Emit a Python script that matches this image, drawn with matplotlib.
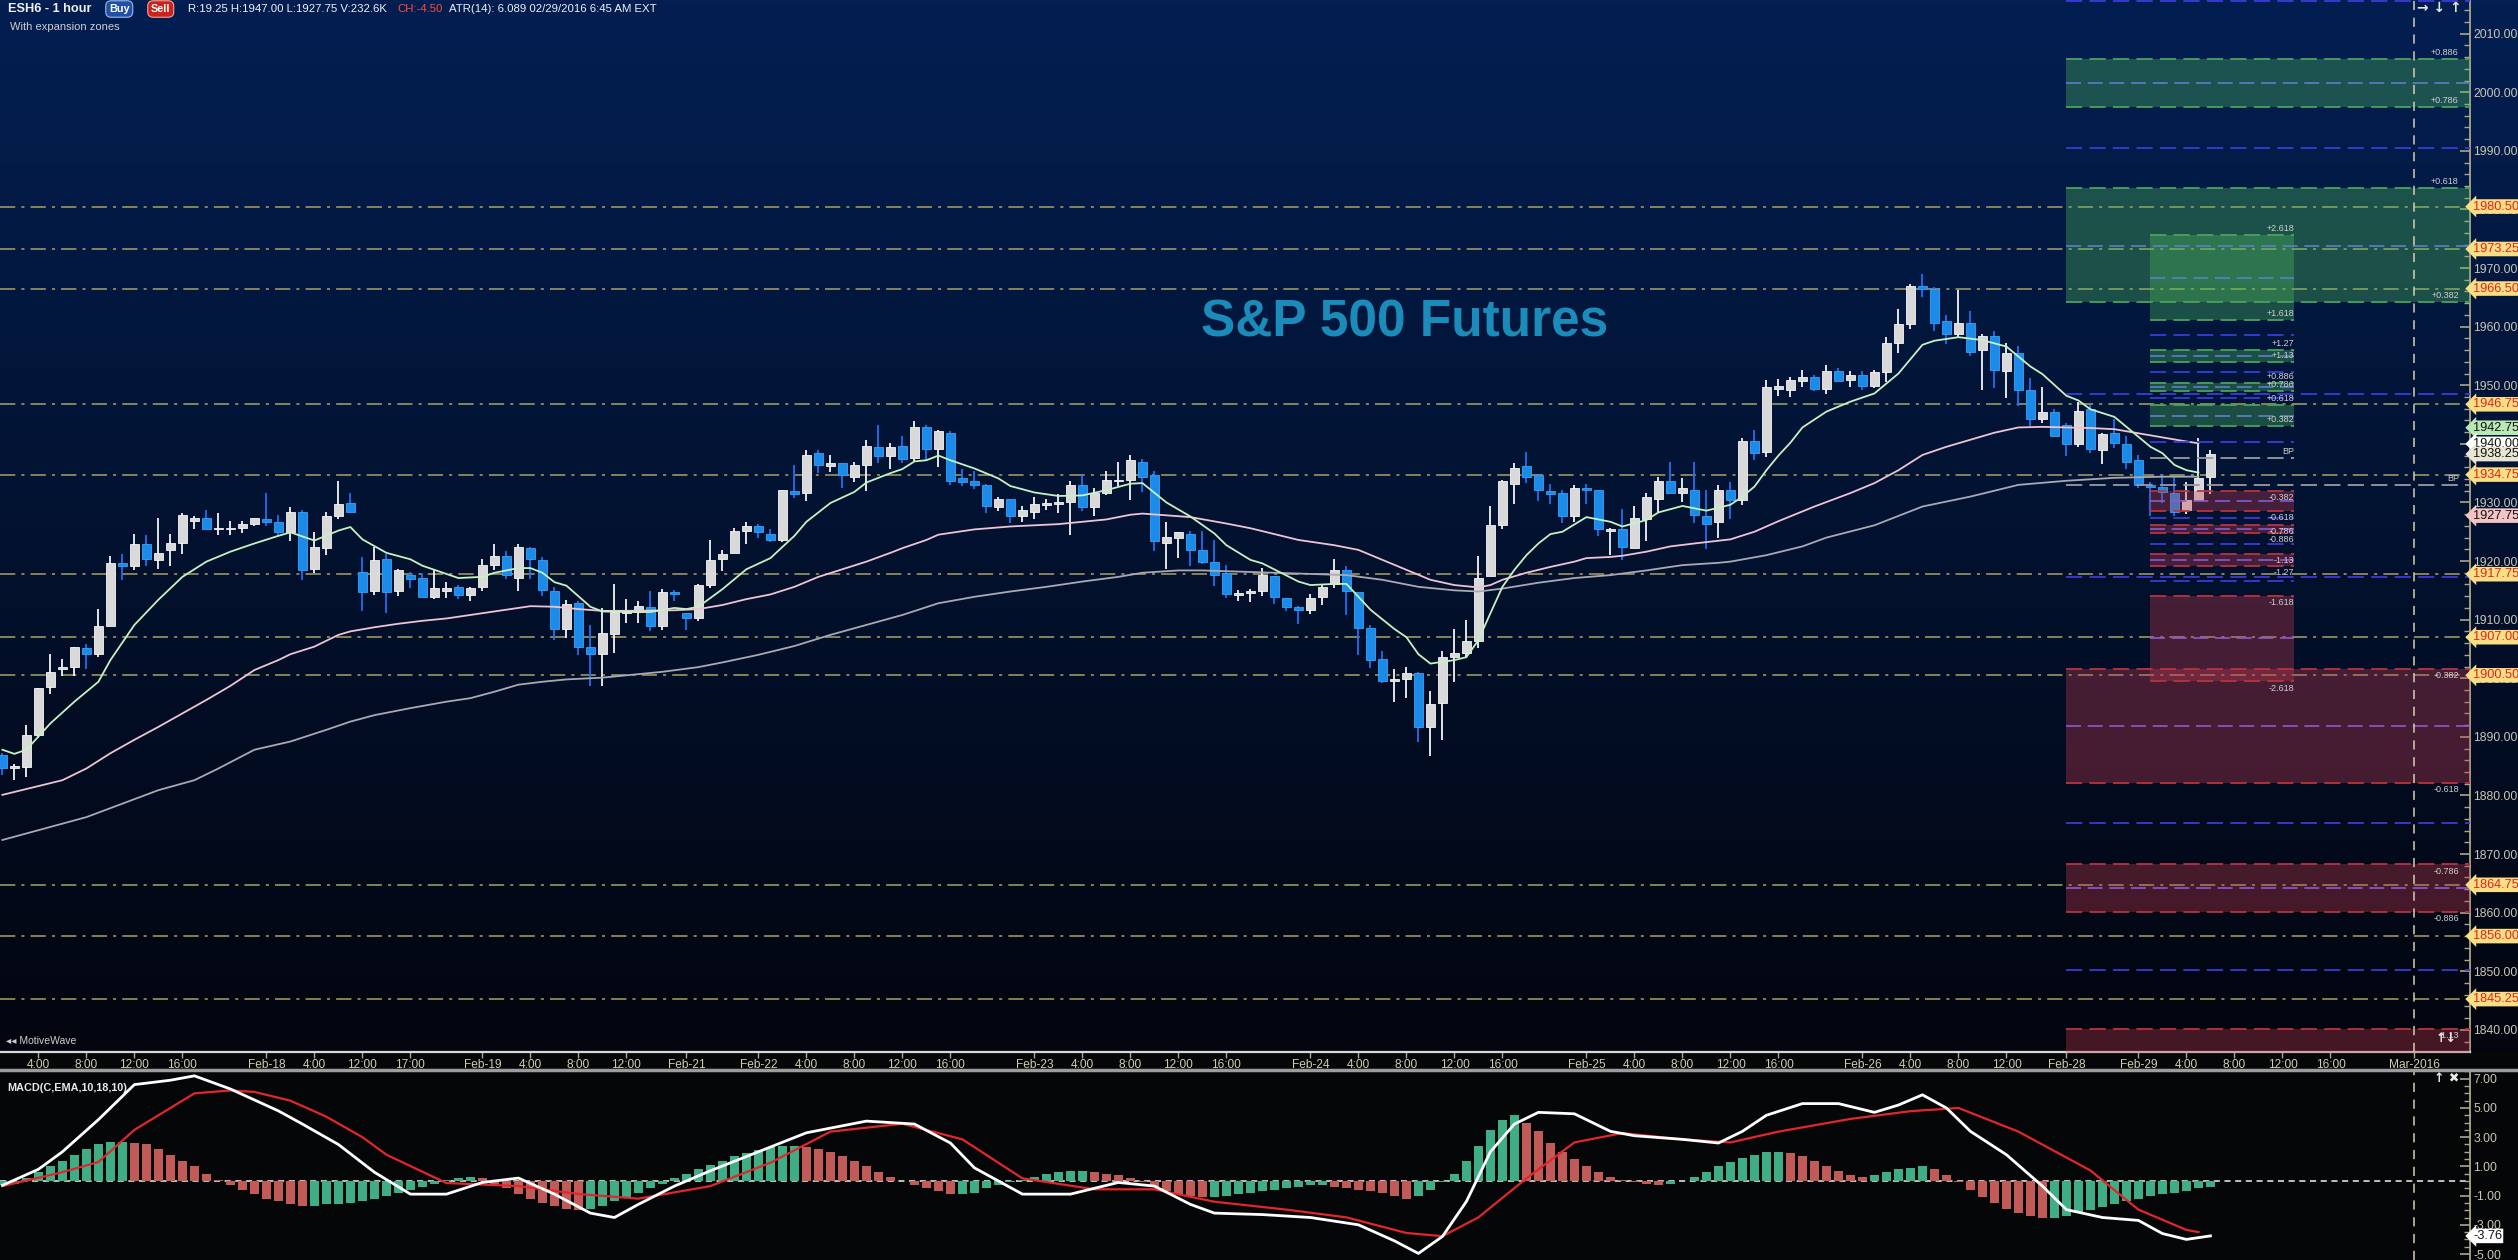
import numpy as np
import matplotlib
matplotlib.use('Agg')
import matplotlib.pyplot as plt
from matplotlib.lines import Line2D

# ---------------- data ----------------
opens = [1886.9, 1884.7, 1884.9, 1890.3, 1898.5, 1901.5, 1902.0, 1905.2, 1904.1, 1908.9,
         1919.7, 1919.2, 1922.9, 1920.2, 1921.8, 1923.1, 1926.9, 1927.35, 1925.4, 1925.4,
         1925.6, 1926.3, 1927.1, 1926.7, 1925.0, 1928.4, 1918.6, 1922.2, 1927.7, 1929.9,
         1918.1, 1914.9, 1920.4, 1914.9, 1917.6, 1917.1, 1913.9, 1914.9, 1915.6, 1914.2,
         1915.6, 1919.3, 1920.9, 1917.1, 1922.2, 1920.2, 1914.9, 1908.4, 1912.8, 1905.3,
         1904.1, 1907.6, 1911.1, 1911.3, 1912.1, 1909.0, 1914.7, 1911.1, 1910.2, 1915.9,
         1920.4, 1921.4, 1925.1, 1926.0, 1924.6, 1923.6, 1932.0, 1931.6, 1938.4, 1936.2,
         1936.7, 1934.4, 1936.4, 1939.5, 1937.9, 1939.6, 1937.6, 1942.9, 1939.1, 1941.9,
         1934.2, 1933.7, 1933.0, 1929.2, 1930.6, 1927.7, 1928.4, 1929.6, 1929.8, 1930.1,
         1933.0, 1929.2, 1931.6, 1933.6, 1933.8, 1936.9, 1934.7, 1923.1, 1923.9, 1924.6,
         1921.9, 1919.8, 1918.0, 1914.2, 1914.55, 1914.9, 1917.5, 1913.7, 1912.2, 1911.65,
         1913.9, 1916.1, 1918.5, 1914.7, 1908.6, 1903.3, 1899.5, 1899.9, 1900.9, 1891.7,
         1895.8, 1903.6, 1904.3, 1906.4, 1917.5, 1926.2, 1933.2, 1936.2, 1934.7, 1931.96,
         1931.6, 1927.7, 1932.5, 1932.1, 1925.2, 1925.5, 1922.2, 1927.2, 1930.6, 1933.7,
         1931.6, 1932.1, 1927.7, 1926.7, 1932.1, 1930.4, 1940.5, 1938.6, 1949.4, 1949.2,
         1950.7, 1951.4, 1949.4, 1952.4, 1950.9, 1951.8, 1949.9, 1952.3, 1957.2, 1960.5,
         1966.9, 1966.4, 1961.0, 1958.7, 1960.6, 1956.0, 1958.4, 1952.4, 1955.5, 1949.2,
         1944.3, 1945.4, 1943.2, 1940.0, 1946.0, 1939.0, 1941.9, 1940.0, 1937.2, 1933.0,
         1932.6, 1931.6, 1928.7, 1930.4, 1934.3]
highs = [1887.2, 1885.4, 1892.0, 1898.4, 1904.1, 1903.2, 1905.3, 1905.85, 1911.8, 1920.9,
         1921.2, 1924.6, 1924.5, 1927.3, 1924.6, 1928.2, 1927.7, 1928.7, 1928.2, 1926.8,
         1926.8, 1927.35, 1931.6, 1927.9, 1929.2, 1928.7, 1925.0, 1928.4, 1933.7, 1931.6,
         1920.7, 1922.4, 1921.2, 1918.6, 1918.1, 1918.0, 1918.5, 1916.4, 1915.9, 1915.6,
         1920.4, 1922.9, 1921.7, 1922.9, 1922.4, 1920.7, 1915.6, 1913.4, 1913.2, 1909.1,
         1912.0, 1916.1, 1913.6, 1913.2, 1914.9, 1915.3, 1915.1, 1911.1, 1916.1, 1923.6,
         1921.9, 1925.6, 1926.7, 1926.3, 1925.5, 1932.1, 1936.4, 1938.9, 1938.9, 1938.1,
         1936.7, 1936.9, 1940.7, 1943.2, 1940.2, 1941.3, 1943.9, 1943.2, 1942.4, 1942.2,
         1935.7, 1935.4, 1933.2, 1930.9, 1930.6, 1929.4, 1930.9, 1930.6, 1931.4, 1933.7,
         1934.7, 1932.5, 1935.4, 1936.9, 1938.1, 1937.4, 1935.4, 1926.7, 1925.0, 1925.1,
         1925.1, 1923.6, 1919.3, 1915.1, 1915.2, 1918.8, 1917.5, 1913.7, 1912.3, 1914.4,
         1916.1, 1920.4, 1919.2, 1914.7, 1909.1, 1904.6, 1901.6, 1901.9, 1901.1, 1897.8,
         1904.6, 1908.4, 1909.9, 1920.9, 1929.4, 1933.8, 1936.7, 1938.6, 1934.7, 1933.2,
         1932.1, 1933.0, 1933.2, 1932.1, 1925.6, 1928.9, 1929.4, 1931.6, 1934.4, 1936.9,
         1934.2, 1936.9, 1932.1, 1933.0, 1933.5, 1941.0, 1942.4, 1950.9, 1951.0, 1951.4,
         1952.6, 1951.8, 1953.5, 1953.0, 1952.4, 1952.4, 1952.6, 1958.2, 1963.0, 1967.3,
         1969.0, 1966.8, 1962.0, 1966.3, 1962.7, 1958.7, 1959.3, 1957.2, 1956.7, 1951.2,
         1949.7, 1946.0, 1943.5, 1947.1, 1946.6, 1941.9, 1944.2, 1941.3, 1938.1, 1933.5,
         1934.7, 1934.5, 1933.5, 1941.0, 1938.95]
lows = [1883.5, 1882.6, 1883.2, 1889.8, 1897.3, 1900.3, 1900.4, 1901.5, 1903.6, 1908.9,
        1916.8, 1918.4, 1919.2, 1918.7, 1919.2, 1921.2, 1925.5, 1925.5, 1924.5, 1924.5,
        1924.8, 1925.9, 1926.0, 1924.3, 1923.4, 1916.8, 1918.0, 1921.0, 1927.2, 1928.4,
        1911.5, 1914.2, 1911.1, 1914.0, 1915.4, 1913.9, 1913.5, 1913.7, 1913.5, 1913.2,
        1914.9, 1918.5, 1916.9, 1914.9, 1916.9, 1914.0, 1906.5, 1906.9, 1904.0, 1898.7,
        1898.6, 1904.3, 1909.4, 1909.5, 1908.0, 1908.3, 1913.2, 1908.3, 1909.8, 1915.4,
        1918.3, 1921.4, 1922.9, 1923.9, 1923.3, 1923.3, 1930.8, 1930.2, 1935.0, 1935.2,
        1932.5, 1933.5, 1932.0, 1936.7, 1935.7, 1936.7, 1937.1, 1937.2, 1936.05, 1933.0,
        1932.8, 1932.3, 1928.2, 1928.5, 1926.5, 1926.7, 1927.2, 1928.7, 1928.2, 1924.5,
        1928.5, 1927.7, 1931.3, 1932.8, 1930.4, 1931.8, 1921.7, 1918.6, 1920.5, 1919.2,
        1919.5, 1915.7, 1913.7, 1913.2, 1913.0, 1914.0, 1912.7, 1911.5, 1909.3, 1911.0,
        1912.5, 1915.4, 1910.8, 1904.0, 1901.8, 1899.2, 1896.0, 1896.6, 1889.1, 1886.7,
        1889.5, 1899.4, 1903.6, 1905.2, 1917.5, 1925.5, 1929.7, 1933.3, 1930.3, 1929.7,
        1926.5, 1926.7, 1929.7, 1924.3, 1921.0, 1920.2, 1922.2, 1923.4, 1928.2, 1931.6,
        1930.1, 1926.5, 1922.1, 1923.9, 1927.2, 1929.6, 1937.2, 1937.8, 1948.2, 1948.0,
        1949.7, 1949.0, 1948.5, 1950.7, 1949.7, 1949.2, 1949.5, 1950.6, 1955.5, 1959.6,
        1965.1, 1959.3, 1957.0, 1958.07, 1955.0, 1949.2, 1949.5, 1947.8, 1946.5, 1943.0,
        1943.6, 1941.3, 1937.9, 1939.5, 1938.4, 1936.6, 1939.3, 1935.7, 1932.5, 1927.7,
        1929.9, 1927.7, 1928.0, 1930.4, 1931.4]
closes = [1884.6, 1885.0, 1890.3, 1898.3, 1901.0, 1902.0, 1905.3, 1904.1, 1908.9, 1919.7,
          1919.2, 1922.9, 1920.4, 1921.4, 1923.1, 1927.9, 1927.35, 1925.5, 1925.6, 1925.6,
          1926.3, 1927.35, 1926.7, 1925.0, 1928.4, 1918.5, 1922.4, 1927.7, 1929.7, 1928.4,
          1914.7, 1920.2, 1914.7, 1918.5, 1916.9, 1913.9, 1915.4, 1915.4, 1914.2, 1915.4,
          1919.3, 1920.9, 1917.6, 1922.4, 1920.4, 1915.1, 1908.4, 1912.7, 1905.3, 1904.1,
          1907.8, 1911.3, 1911.3, 1912.3, 1909.0, 1914.7, 1914.3, 1910.2, 1915.9, 1920.2,
          1921.2, 1925.1, 1926.0, 1925.0, 1923.6, 1932.1, 1931.4, 1938.1, 1936.4, 1936.7,
          1934.7, 1936.4, 1939.6, 1937.9, 1939.5, 1937.4, 1942.9, 1939.1, 1942.2, 1933.7,
          1933.5, 1933.0, 1929.4, 1930.6, 1927.7, 1928.7, 1929.7, 1929.9, 1930.1, 1933.0,
          1929.2, 1931.6, 1933.8, 1933.8, 1937.2, 1934.4, 1923.4, 1924.1, 1925.0, 1921.9,
          1919.8, 1917.6, 1914.4, 1914.4, 1914.7, 1917.6, 1913.9, 1912.2, 1911.65, 1913.7,
          1915.6, 1918.5, 1914.9, 1908.6, 1903.1, 1899.5, 1899.9, 1900.9, 1891.7, 1895.6,
          1903.6, 1904.3, 1906.4, 1917.1, 1926.2, 1933.7, 1935.9, 1934.3, 1932.1, 1931.4,
          1927.7, 1932.5, 1932.1, 1925.5, 1925.4, 1922.4, 1927.35, 1930.9, 1933.7, 1931.6,
          1932.5, 1927.9, 1926.3, 1932.1, 1930.4, 1940.5, 1938.4, 1949.7, 1949.9, 1950.9,
          1951.4, 1949.4, 1952.4, 1950.7, 1951.8, 1949.9, 1952.3, 1957.2, 1960.5, 1966.9,
          1966.4, 1960.6, 1958.7, 1960.6, 1955.7, 1958.4, 1952.6, 1955.5, 1949.2, 1944.3,
          1945.4, 1941.3, 1940.0, 1945.6, 1939.1, 1941.7, 1940.1, 1936.9, 1933.0, 1932.6,
          1931.8, 1928.4, 1930.4, 1934.2, 1938.25]

# moving averages (bar index, price)
fast_x = [0, 1, 2, 4, 6, 8, 9, 11, 13, 15, 17, 19, 21, 23, 24, 26, 28, 29, 30, 32, 34, 35, 38, 40,
          41, 43, 44, 45, 46, 47, 49, 50, 52, 54, 56, 57, 58, 60, 62, 64, 66, 67, 69, 71, 72, 74,
          75, 76, 77, 78, 79, 81, 83, 84, 86, 88, 90, 92, 94, 95, 97, 99, 101, 102, 104, 105, 108,
          109, 111, 112, 114, 116, 117, 118, 119, 121, 122, 123, 124, 125, 126, 127, 128, 129, 130,
          132, 134, 135, 137, 138, 140, 142, 144, 145, 146, 147, 148, 149, 150, 152, 154, 156, 158,
          160, 161, 163, 165, 167, 169, 170, 172, 173, 174, 176, 177, 178, 179, 180, 181, 182, 183]
fast_y = [1887.8, 1887.1, 1887.8, 1892.3, 1896.0, 1899.4, 1903.1, 1909.1, 1913.4, 1917.3, 1919.9,
          1921.6, 1923.0, 1924.3, 1924.9, 1923.5, 1925.2, 1925.8, 1923.7, 1921.4, 1920.3, 1919.2,
          1917.1, 1917.3, 1918.0, 1918.8, 1918.8, 1918.0, 1916.4, 1915.8, 1912.2, 1911.4, 1911.3,
          1911.3, 1912.0, 1911.8, 1912.2, 1915.2, 1918.6, 1920.5, 1924.3, 1926.7, 1929.9, 1931.8,
          1933.4, 1935.0, 1935.7, 1937.0, 1937.2, 1938.0, 1937.2, 1935.8, 1934.1, 1932.8, 1931.7,
          1931.1, 1931.2, 1932.1, 1933.2, 1933.3, 1930.0, 1927.6, 1924.7, 1922.7, 1920.2, 1919.6,
          1916.5, 1915.9, 1916.1, 1916.1, 1911.7, 1908.4, 1907.0, 1904.1, 1902.5, 1903.1, 1903.6,
          1906.5, 1911.1, 1915.6, 1918.5, 1921.0, 1923.0, 1924.6, 1925.0, 1927.5, 1926.7, 1925.9,
          1927.0, 1928.3, 1929.4, 1928.6, 1929.6, 1931.0, 1932.7, 1935.5, 1938.0, 1940.2, 1942.8,
          1945.5, 1947.2, 1948.6, 1952.0, 1956.9, 1957.6, 1958.2, 1957.7, 1956.6, 1953.2, 1951.9,
          1948.2, 1947.4, 1945.9, 1944.6, 1942.9, 1941.2, 1939.5, 1938.4, 1936.4, 1935.5, 1935.1]
mid_x = [0, 3, 5, 7, 9, 11, 13, 15, 17, 19, 21, 23, 24, 26, 28, 29, 31, 33, 35, 37, 39, 41, 43, 44,
         46, 48, 50, 52, 56, 58, 60, 62, 64, 66, 68, 70, 72, 74, 75, 77, 78, 81, 84, 88, 90, 92, 94,
         95, 97, 99, 102, 104, 108, 111, 113, 115, 117, 119, 121, 123, 124, 125, 127, 129, 131, 132,
         134, 135, 137, 139, 141, 144, 146, 148, 151, 154, 156, 158, 160, 162, 164, 166, 168, 170,
         172, 174, 176, 178, 180, 182, 183]
mid_y = [1880.1, 1881.6, 1882.6, 1884.6, 1887.2, 1889.5, 1891.7, 1894.0, 1896.3, 1898.7, 1901.4,
         1903.1, 1904.1, 1905.4, 1907.4, 1908.0, 1908.7, 1909.3, 1909.8, 1910.2, 1910.8, 1911.4,
         1912.0, 1912.3, 1912.2, 1911.8, 1911.5, 1911.5, 1911.6, 1911.8, 1912.5, 1913.5, 1914.3,
         1915.6, 1917.3, 1918.6, 1919.9, 1921.4, 1922.2, 1923.6, 1924.5, 1925.4, 1925.9, 1926.3,
         1926.7, 1927.1, 1927.9, 1928.1, 1927.8, 1927.5, 1926.4, 1925.6, 1923.6, 1922.7, 1921.9,
         1920.2, 1918.5, 1916.8, 1915.9, 1915.5, 1915.9, 1916.8, 1918.0, 1919.0, 1919.9, 1920.5,
         1920.7, 1920.9, 1921.6, 1922.5, 1923.0, 1923.7, 1925.0, 1926.8, 1929.3, 1931.6, 1933.3,
         1935.5, 1938.1, 1939.5, 1940.7, 1941.9, 1942.8, 1942.9, 1942.8, 1942.7, 1942.5, 1941.8,
         1941.1, 1940.4, 1940.1]
slow_x = [0, 7, 13, 16, 18, 21, 24, 27, 29, 31, 34, 37, 39, 41, 43, 45, 47, 50, 52, 55, 58, 60, 63,
          66, 69, 72, 75, 78, 81, 84, 87, 90, 93, 95, 98, 100, 103, 106, 109, 112, 115, 118, 121,
          123, 125, 128, 131, 134, 137, 140, 143, 144, 147, 150, 152, 156, 160, 164, 168, 172, 176,
          180, 183]
slow_y = [1872.4, 1876.3, 1880.9, 1882.6, 1884.6, 1887.8, 1889.2, 1891.2, 1892.6, 1893.7, 1894.9,
          1896.0, 1896.6, 1897.7, 1898.9, 1899.4, 1899.8, 1900.1, 1900.5, 1901.1, 1901.9, 1902.7,
          1904.0, 1905.5, 1907.4, 1909.1, 1910.8, 1912.8, 1913.9, 1914.8, 1915.6, 1916.5, 1917.3,
          1918.0, 1918.4, 1918.4, 1918.2, 1918.0, 1917.8, 1917.6, 1916.8, 1915.6, 1915.0, 1914.8,
          1915.3, 1916.3, 1917.1, 1917.6, 1918.4, 1919.3, 1919.7, 1919.9, 1921.0, 1922.5, 1924.0,
          1926.1, 1929.3, 1931.0, 1933.0, 1933.7, 1934.2, 1934.4, 1934.4]

# MACD(10,18,10) panel
macd_x = [0, 3, 5, 8, 11, 14, 16, 19, 23, 25, 28, 31, 34, 37, 40, 43, 46, 49, 51, 53, 56, 59, 63,
          67, 72, 76, 79, 81, 85, 89, 93, 96, 99, 101, 105, 109, 113, 116, 118, 120, 122, 124, 126,
          128, 131, 134, 136, 140, 143, 145, 147, 150, 153, 156, 158, 160, 162, 164, 167, 170, 172,
          175, 178, 180, 182, 184]
macd_y = [-0.3, 0.8, 2.0, 4.2, 6.6, 6.9, 7.2, 6.3, 4.8, 3.9, 2.5, 0.6, -0.9, -0.9, -0.1, 0.2, -0.9,
          -2.2, -2.5, -1.6, -0.35, 0.7, 2.0, 3.3, 4.1, 3.9, 2.6, 0.9, -0.9, -0.9, -0.1, -0.35, -1.6,
          -2.2, -2.3, -2.5, -3.0, -4.1, -4.96, -3.8, -1.4, 2.0, 3.9, 4.7, 4.6, 3.4, 3.1, 2.85, 2.6,
          3.4, 4.5, 5.3, 5.3, 4.7, 5.2, 5.9, 5.0, 3.4, 1.8, -0.35, -1.96, -2.5, -2.7, -3.6, -4.0, -3.76]
sig_x = [0, 5, 8, 11, 14, 16, 19, 21, 24, 27, 30, 32, 37, 43, 48, 53, 59, 64, 69, 75, 80, 85, 91,
         96, 101, 107, 112, 117, 120, 123, 127, 131, 135, 140, 144, 148, 154, 159, 163, 168, 174,
         178, 182, 183]
sig_y = [-0.35, 0.6, 1.3, 3.5, 5.0, 6.0, 6.2, 6.1, 5.5, 4.4, 3.0, 1.8, -0.14, -0.35, -0.89, -1.21,
         -0.35, 1.25, 3.38, 3.92, 2.85, 0.18, -0.57, -0.57, -1.42, -1.96, -2.49, -3.56, -3.78, -2.49,
         0.18, 2.64, 3.28, 2.85, 2.64, 3.38, 4.25, 4.78, 5.0, 3.38, 0.72, -1.96, -3.35, -3.5]
hist = [-0.3, -0.2, 0.2, 0.6, 1.0, 1.4, 1.8, 2.2, 2.5, 2.7, 2.7, 2.6, 2.5, 2.2, 1.8, 1.4, 1.0, 0.5,
        0.1, -0.3, -0.6, -0.9, -1.2, -1.4, -1.6, -1.7, -1.7, -1.6, -1.6, -1.5, -1.4, -1.2, -1.0, -0.8,
        -0.6, -0.4, -0.2, 0.1, 0.2, 0.3, 0.2, -0.2, -0.5, -0.9, -1.2, -1.5, -1.7, -1.9, -2.0, -1.9,
        -1.7, -1.4, -1.1, -0.8, -0.5, -0.2, 0.2, 0.5, 0.8, 1.1, 1.4, 1.7, 1.9, 2.1, 2.3, 2.4, 2.4,
        2.3, 2.2, 2.0, 1.7, 1.4, 1.0, 0.6, 0.3, 0.0, -0.3, -0.5, -0.7, -0.9, -0.9, -0.8, -0.5, -0.3,
        -0.1, 0.1, 0.3, 0.5, 0.6, 0.7, 0.7, 0.6, 0.5, 0.4, 0.2, -0.1, -0.4, -0.7, -0.9, -1.0, -1.1,
        -1.1, -1.0, -0.9, -0.8, -0.7, -0.6, -0.5, -0.4, -0.3, -0.3, -0.4, -0.5, -0.6, -0.7, -0.8,
        -1.0, -1.2, -1.0, -0.6, -0.1, 0.5, 1.4, 2.4, 3.5, 4.2, 4.5, 4.0, 3.4, 2.6, 2.0, 1.5, 1.0,
        0.6, 0.3, 0.1, -0.1, -0.2, -0.3, -0.2, 0.0, 0.3, 0.6, 1.0, 1.3, 1.6, 1.8, 2.0, 2.0, 1.9,
        1.7, 1.4, 1.0, 0.7, 0.4, 0.3, 0.4, 0.6, 0.8, 0.9, 1.0, 0.8, 0.4, -0.1, -0.6, -1.1, -1.5,
        -1.9, -2.2, -2.4, -2.5, -2.5, -2.4, -2.2, -2.0, -1.8, -1.6, -1.4, -1.2, -1.0, -0.9, -0.8,
        -0.7, -0.5, -0.4]

tick_pos = [3, 7, 11, 15, 22, 26, 30, 34, 40, 44, 48, 52, 57, 63, 67, 71, 75, 79, 86, 90, 94, 98,
            102, 109, 113, 117, 121, 125, 132, 136, 140, 144, 148, 155, 159, 163, 167, 172, 178,
            182, 186, 190, 194, 201]
tick_lbl = ['4:00', '8:00', '12:00', '16:00', 'Feb-18', '4:00', '12:00', '17:00', 'Feb-19', '4:00',
            '8:00', '12:00', 'Feb-21', 'Feb-22', '4:00', '8:00', '12:00', '16:00', 'Feb-23', '4:00',
            '8:00', '12:00', '16:00', 'Feb-24', '4:00', '8:00', '12:00', '16:00', 'Feb-25', '4:00',
            '8:00', '12:00', '16:00', 'Feb-26', '4:00', '8:00', '12:00', 'Feb-28', 'Feb-29', '4:00',
            '8:00', '12:00', '16:00', 'Mar-2016']

key_levels = [1980.50, 1973.25, 1966.50, 1946.75, 1934.75, 1917.75, 1907.00, 1900.50,
              1864.75, 1856.00, 1845.25]
marker_levels = [1942.75, 1940.00, 1938.25, 1927.75]
marker_colors = ['#b9e8b4', '#ffffff', '#e9e5d3', '#f4c4c4']

# expansion zones: (low, high, middle, low label, high label)
big_up = [(1997.43, 2005.62, 2001.53, '+0.786', '+0.886'),
          (1964.16, 1983.61, 1973.82, '+0.382', '+0.618')]
big_dn = [(1882.18, 1901.51, 1891.80, '-0.618', '-0.382'),
          (1860.06, 1868.22, 1864.17, '-0.886', '-0.786'),
          (1830.00, 1840.08, None, None, '-1.13')]
big_lines = [2015.5, 1990.49, 1948.46, 1917.21, 1875.28, 1850.13]
big_bp = 1932.98
in_up = [(1961.14, 1975.59, 1968.25, '+1.618', '+2.618'),
         (1953.92, 1956.02, 1954.94, '+1.13', '+1.27'),
         (1948.97, 1950.44, 1949.70, '+0.786', '+0.886'),
         (1942.99, 1946.63, 1944.80, '+0.382', '+0.618')]
in_dn = [(1928.58, 1931.90, 1930.20, '-0.618', '-0.382'),
         (1924.79, 1926.08, 1925.50, '-0.886', '-0.786'),
         (1919.16, 1921.19, 1920.20, '-1.27', '-1.13'),
         (1899.45, 1914.00, 1906.87, '-2.618', '-1.618')]
in_lines = [1958.58, 1952.21, 1947.77, 1940.27, 1927.26, 1922.89, 1916.55]
in_bp = 1937.53

# ---------------- figure ----------------
W, H = 2518, 1260
plt.rcParams['font.family'] = ['Liberation Sans', 'DejaVu Sans']

fig = plt.figure(figsize=(W / 100, H / 100), dpi=100, facecolor='#050608')

# gradient background of the price panel (incl. right scale)
bg = fig.add_axes([0, 1 - 1052 / H, 1, 1052 / H], zorder=-5)
top = np.array([3, 31, 82]) / 255.0
bot = np.array([2, 5, 14]) / 255.0
t = np.linspace(0, 1, 256)[:, None]
grad = (top * (1 - t) + bot * t)[:, None, :]
bg.imshow(grad, aspect='auto', extent=[0, 1, 0, 1])
bg.axis('off')

ax = fig.add_axes([0, 1 - 1052 / H, 2470 / W, 1052 / H])
ax.patch.set_alpha(0)
mx = fig.add_axes([0, 0, 2470 / W, 190 / H])
mx.set_facecolor('#050608')

XL = (-0.2, 205.63)
ax.set_xlim(*XL)
ax.set_ylim(1836.22, 2015.74)
mx.set_xlim(*XL)
mx.set_ylim(-5.41, 7.6)

o = np.array(opens); h = np.array(highs); l = np.array(lows); c = np.array(closes)
x = np.arange(len(o))
up = c >= o

# key horizontal levels
for lv in key_levels:
    ax.axhline(lv, color='#a8a267', lw=1.1, ls=(0, (10, 4, 2, 4)), zorder=2)

# candles
ax.vlines(x[up], l[up], h[up], color='#f4f4f4', lw=1.3, zorder=3)
ax.vlines(x[~up], l[~up], h[~up], color='#1f6ff4', lw=1.3, zorder=3)
body_lo = np.minimum(o, c)
body_h = np.maximum(np.abs(c - o), 0.3)
ax.bar(x[up], body_h[up], bottom=body_lo[up], width=0.72, color='#d9d9d9',
       edgecolor='#f6f6f6', lw=0.6, zorder=4)
ax.bar(x[~up], body_h[~up], bottom=body_lo[~up], width=0.72, color='#1b8ae8',
       edgecolor='#36a4f8', lw=0.6, zorder=4)

# moving averages
ax.plot(slow_x, slow_y, color='#a9a9b4', lw=1.3, zorder=5)
ax.plot(mid_x, mid_y, color='#efc3d3', lw=1.3, zorder=5)
ax.plot(fast_x, fast_y, color='#c4f2c2', lw=1.3, zorder=5)

# expansion zones
BX0, BX1 = 171.97, XL[1]
IX0, IX1 = 178.97, 190.97
DASH = (0, (9, 4))
lab_kw = dict(fontsize=6.5, color='#cfcfcf', ha='right', zorder=9)


def zone(lo, hi, mid, lo_lab, hi_lab, x0, x1, fill, edge, midc, lx, up_side):
    ax.fill_between([x0, x1], lo, hi, color=fill, alpha=0.34, lw=0, zorder=6)
    ax.hlines([lo, hi], x0, x1, colors=edge, lw=1.3, linestyles=DASH, zorder=7)
    if mid is not None:
        ax.hlines(mid, x0, x1, colors=midc, lw=1.2, linestyles=DASH, zorder=7)
    va = 'bottom' if up_side else 'top'
    off = 0.35 if up_side else -0.35
    if lo_lab:
        ax.text(lx, lo + off, lo_lab, va=va, **lab_kw)
    if hi_lab:
        ax.text(lx, hi + off, hi_lab, va=va, **lab_kw)


for z in big_up:
    zone(*z, BX0, BX1, '#50be5a', '#4aa35c', '#5a80c8', 204.7, True)
for z in big_dn:
    zone(*z, BX0, BX1, '#c83c50', '#b8343f', '#8a5ad0', 204.7, False)
for z in in_up:
    zone(*z, IX0, IX1, '#50be5a', '#4aa35c', '#5a80c8', IX1, True)
for z in in_dn:
    zone(*z, IX0, IX1, '#c83c50', '#b8343f', '#8a5ad0', IX1, False)

ax.hlines(big_lines, BX0, BX1, colors='#3b3bd6', lw=1.3, linestyles=DASH, zorder=7)
ax.hlines(in_lines, IX0, IX1, colors='#3b3bd6', lw=1.3, linestyles=DASH, zorder=7)
ax.hlines(big_bp, BX0, BX1, colors='#9a9aa0', lw=1.3, linestyles=DASH, zorder=7)
ax.hlines(in_bp, IX0, IX1, colors='#9a9aa0', lw=1.3, linestyles=DASH, zorder=7)
ax.text(204.7, big_bp + 0.35, 'BP', va='bottom', **lab_kw)
ax.text(IX1, in_bp + 0.35, 'BP', va='bottom', **lab_kw)

# vertical "now" divider
for a in (ax, mx):
    a.axvline(201, color='#d6cfae', lw=1.1, ls=(0, (6, 5)), zorder=8)

# price scale (ticks point into the chart, labels right of the axis line)
AX_COL = '#aca78a'
ax.yaxis.tick_right()
ax.set_yticks(np.arange(1840, 2011, 10))
ax.set_yticklabels([f'{v:.2f}' for v in np.arange(1840, 2011, 10)])
ax.set_yticks(np.arange(1838, 2016, 2), minor=True)
ax.tick_params(axis='y', which='major', direction='in', length=7, width=1.2, color=AX_COL,
               labelcolor='#c9c6b4', labelsize=8.8, pad=2.5)
ax.tick_params(axis='y', which='minor', direction='in', length=4, width=1.0, color=AX_COL)
ax.set_xticks(tick_pos)
ax.set_xticklabels(tick_lbl)
ax.tick_params(axis='x', length=4, width=1.0, color=AX_COL, labelcolor='#d2cdb2',
               labelsize=8.6, pad=1)
for s in ('top', 'left'):
    ax.spines[s].set_visible(False)
ax.spines['right'].set_color(AX_COL)
ax.spines['right'].set_linewidth(1.3)
ax.spines['bottom'].set_color('#d8d8d8')
ax.spines['bottom'].set_linewidth(1.6)

# price markers on the scale
tag_kw = dict(transform=ax.get_yaxis_transform(), ha='left', va='center', fontsize=9.2,
              clip_on=False, zorder=12)
for lv in key_levels:
    ax.text(1.0012, lv, f'{lv:.2f}', color='#e5231b',
            bbox=dict(boxstyle='larrow,pad=0.1', fc='#f8df86', ec='none'), **tag_kw)
for lv, fc in zip(marker_levels, marker_colors):
    ax.text(1.0012, lv, f'{lv:.2f}', color='#111111',
            bbox=dict(boxstyle='larrow,pad=0.1', fc=fc, ec='none'), **tag_kw)

# title
ax.text(1201 / 2470, 1 - 323 / 1052, 'S&P 500 Futures', transform=ax.transAxes,
        fontsize=37, fontweight='bold', color='#1b8cba', va='center', ha='left', zorder=10)

# ---------------- MACD ----------------
mx.axhline(0, color='#f0f0f0', lw=1.1, ls=(0, (4, 3)), zorder=1)
hc = ['#3fae84' if i == 0 or hist[i] >= hist[i - 1] else '#c25a58' for i in range(len(hist))]
mx.bar(np.arange(len(hist)), hist, width=0.72, color=hc, zorder=2)
mx.plot(sig_x, sig_y, color='#e3262a', lw=1.6, zorder=3)
mx.plot(macd_x, macd_y, color='#ffffff', lw=2.0, zorder=4)
mx.yaxis.tick_right()
mx.set_yticks([7, 5, 3, 1, -1, -3, -5])
mx.set_yticklabels(['7.00', '5.00', '3.00', '1.00', '-1.00', '-3.00', '-5.00'])
mx.set_yticks(np.arange(-5, 7.6, 0.5), minor=True)
mx.tick_params(axis='y', which='major', direction='in', length=7, width=1.2, color=AX_COL,
               labelcolor='#c9c6b4', labelsize=8.8, pad=2.5)
mx.tick_params(axis='y', which='minor', direction='in', length=4, width=1.0, color=AX_COL)
mx.set_xticks([])
for s in ('top', 'left', 'bottom'):
    mx.spines[s].set_visible(False)
mx.spines['right'].set_color(AX_COL)
mx.spines['right'].set_linewidth(1.3)
mx.text(1.0012, macd_y[-1], f'{macd_y[-1]:.2f}', transform=mx.get_yaxis_transform(),
        ha='left', va='center', fontsize=9.2, color='#111111', clip_on=False, zorder=12,
        bbox=dict(boxstyle='larrow,pad=0.1', fc='#ffffff', ec='none'))
mx.text(0.003, 0.93, 'MACD(C,EMA,10,18,10)', transform=mx.transAxes, fontsize=7.8,
        fontweight='bold', color='#e8e8e8', va='top')

# separator between panels
fig.add_artist(Line2D([0, 1], [1 - 1070 / H] * 2, color='#9c9c9c', lw=2.5))

# ---------------- header ----------------
def ftext(px, py, s, **kw):
    fig.text(px / W, 1 - py / H, s, va='center', ha='left', **kw)


ftext(8, 9, 'ESH6 - 1 hour', fontsize=9.2, color='#f0f0f0', fontweight='bold')
ftext(109, 9, 'Buy', fontsize=7.8, color='white', fontweight='bold',
      bbox=dict(boxstyle='round,pad=0.3,rounding_size=0.5', fc='#1f4fa6', ec='#9db8e6', lw=0.8))
ftext(151, 9, 'Sell', fontsize=7.8, color='white', fontweight='bold',
      bbox=dict(boxstyle='round,pad=0.3,rounding_size=0.5', fc='#c9231b', ec='#f1a39e', lw=0.8))
ftext(188, 9, 'R:19.25 H:1947.00 L:1927.75 V:232.6K', fontsize=8.2, color='#f0f0f0')
ftext(397, 9, 'CH:-4.50', fontsize=8.2, color='#ff4a3c')
ftext(449, 9, 'ATR(14): 6.089 02/29/2016 6:45 AM EXT', fontsize=8.2, color='#f0f0f0')
ftext(10, 27, 'With expansion zones', fontsize=8, color='#cfcfcf')
ftext(6, 1041, '\u25c2\u25c2 MotiveWave', fontsize=7.5, color='#cfcfcf')
fig.text(2417 / W, 1 - 8 / H, '\u2192 \u2193 \u2191', fontsize=10, color='#e8e8e8',
         fontweight='bold', va='center', ha='left', family='DejaVu Sans')
fig.text(2436 / W, 1 - 1038 / H, '\u2191\u2193', fontsize=9, color='#e8e8e8',
         fontweight='bold', va='center', ha='left', family='DejaVu Sans')
fig.text(2434 / W, 1 - 1078 / H, '\u2191 \u2716', fontsize=9, color='#e8e8e8',
         fontweight='bold', va='center', ha='left', family='DejaVu Sans')

fig.savefig('out.png', dpi=100, facecolor=fig.get_facecolor())
